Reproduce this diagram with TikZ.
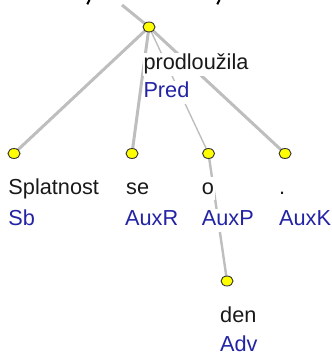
\documentclass[tikz,border=0pt]{standalone}
\usepackage{fontspec}
\setmainfont{Liberation Sans}
\usetikzlibrary{shapes.geometric,backgrounds}
\definecolor{edgegray}{RGB}{190,190,190}
\definecolor{funcblue}{RGB}{35,35,165}
\definecolor{wordblack}{RGB}{25,25,25}
\definecolor{nodeyellow}{RGB}{255,255,0}
\begin{document}
\begin{tikzpicture}[x=1pt,y=-1pt,
  treenode/.style={ellipse,draw=black!80,line width=0.9pt,fill=nodeyellow,minimum width=12pt,minimum height=10pt,inner sep=0pt},
  lbl/.style={anchor=base west,inner xsep=1pt,inner ysep=1.5pt,fill=white,text height=15.5pt,text depth=4.5pt,font=\fontsize{21.7}{26}\selectfont},
  wordlbl/.style={lbl,text=wordblack},
  funclbl/.style={lbl,text=funcblue},
  thickedge/.style={draw=edgegray,line width=3pt},
  thinedge/.style={draw=edgegray,line width=1.4pt},
  midedge/.style={draw=edgegray,line width=2.4pt},
  frag/.style={draw=black,line width=2pt}]
\useasboundingbox (0,0) rectangle (331,352);
% tree nodes
\node[treenode] (root) at (149,27) {};
\node[treenode] (sb) at (14,153.5) {};
\node[treenode] (se) at (132,153.5) {};
\node[treenode] (o) at (208.5,153.5) {};
\node[treenode] (dot) at (285,153.5) {};
\node[treenode] (den) at (227,281) {};
\coordinate (up) at (122,5);
% labels
\node[wordlbl] (w-root) at (142.3,70) {prodloužila};
\node[funclbl] (f-root) at (142.3,98) {Pred};
\node[wordlbl] (w-sb) at (7.3,194) {Splatnost};
\node[funclbl] (f-sb) at (7.3,225.5) {Sb};
\node[wordlbl] (w-se) at (125,194) {se};
\node[funclbl] (f-se) at (124,225.5) {AuxR};
\node[wordlbl] (w-o) at (200.7,194) {o};
\node[funclbl] (f-o) at (200.7,225.5) {AuxP};
\node[wordlbl] (w-dot) at (278,194) {.};
\node[funclbl] (f-dot) at (278,225.5) {AuxK};
\node[wordlbl] (w-den) at (219,322.5) {den};
\node[funclbl] (f-den) at (219,351.5) {Adv};
% edges
\begin{scope}[on background layer]
\draw[thickedge] (up) -- (root.center);
\draw[thickedge] (root.center) -- (sb.center);
\draw[thickedge] (root.center) -- (se.center);
\draw[thinedge] (root.center) -- (o.center);
\draw[thickedge] (root.center) -- (dot.center);
\draw[midedge] (o.center) -- (den.center);
\end{scope}
% cut-off descenders at the top
\draw[frag] (89.5,0) -- (87.3,4.3);
\draw[frag] (219.5,0) -- (217.3,4.3);
\end{tikzpicture}
\end{document}
